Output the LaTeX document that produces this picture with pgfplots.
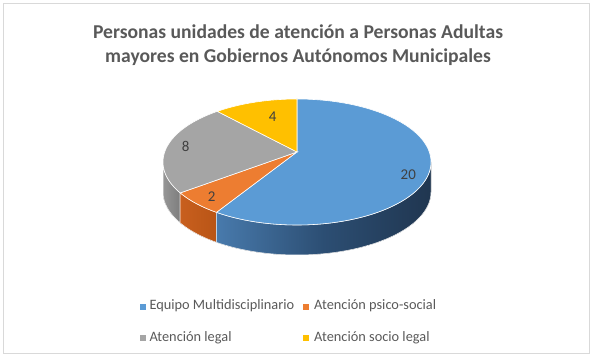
\documentclass[border=0pt]{standalone}
\usepackage{fontspec}
\setmainfont{Carlito}
\usepackage{pgfplots}
\usepackage{pgfplotstable}
\usepgfplotslibrary{fillbetween}
\pgfplotsset{compat=1.18}
\definecolor{cBlue}{HTML}{5B9BD5}
\definecolor{cOrange}{HTML}{ED7D31}
\definecolor{cGray}{HTML}{A5A5A5}
\definecolor{cYellow}{HTML}{FFC000}
\definecolor{cTitle}{HTML}{595959}
\definecolor{cLab}{HTML}{404040}
\definecolor{cBorder}{HTML}{D9D9D9}
\definecolor{gL}{RGB}{150,150,150}
\definecolor{gR}{RGB}{125,125,125}
\definecolor{oL}{RGB}{200,95,30}
\definecolor{oR}{RGB}{185,85,22}
\definecolor{bL}{RGB}{72,122,172}
\definecolor{bM}{RGB}{44,78,115}
\definecolor{bR}{RGB}{32,54,80}
\pgfplotstableread{
idx value
0 20
1 2
2 8
3 4
}\piedata
\pgfplotstablegetelem{0}{value}\of\piedata\let\vA\pgfplotsretval
\pgfplotstablegetelem{1}{value}\of\piedata\let\vB\pgfplotsretval
\pgfplotstablegetelem{2}{value}\of\piedata\let\vC\pgfplotsretval
\pgfplotstablegetelem{3}{value}\of\piedata\let\vD\pgfplotsretval
\pgfmathsetmacro\tot{\vA+\vB+\vC+\vD}
\pgfmathsetmacro\aA{90-360*\vA/\tot}
\pgfmathsetmacro\aB{\aA-360*\vB/\tot}
\pgfmathsetmacro\aC{\aB-360*\vC/\tot}
\pgfmathsetmacro\aD{\aC-360*\vD/\tot}
\begin{document}
\begin{tikzpicture}
\begin{axis}[scale only axis, width=594bp, height=358bp,
  xmin=0, xmax=594, ymin=0, ymax=358, hide axis, clip=false,
  declare function={bx(\t)=297+132.3*cos(\t)/(1+0.159*sin(\t));
                    by(\t)=196+63*(sin(\t)+0.159)/(1+0.159*sin(\t));}]
\path (0,0) rectangle (594,358);
\draw[cBorder, line width=0.8bp] (3.5,354.5) rectangle (589.5,5);
% ---- side walls
% gray
\addplot[name path=gT, draw=none, domain=-170.85:\aB, samples=30, forget plot] ({bx(x)},{by(x)});
\addplot[name path=gB, draw=none, domain=-170.85:\aB, samples=30, forget plot] ({bx(x)},{by(x)-30});
\addplot[left color=gL, right color=gR, draw=white, line width=0.5pt, forget plot] fill between[of=gT and gB];
% orange
\addplot[name path=oT, draw=none, domain=\aB:\aA, samples=30, forget plot] ({bx(x)},{by(x)});
\addplot[name path=oB, draw=none, domain=\aB:\aA, samples=30, forget plot] ({bx(x)},{by(x)-30});
\addplot[left color=oL, right color=oR, draw=white, line width=0.5pt, forget plot] fill between[of=oT and oB];
% blue
\addplot[name path=bT, draw=none, domain=\aA:-9.15, samples=80, forget plot] ({bx(x)},{by(x)});
\addplot[name path=bB, draw=none, domain=\aA:-9.15, samples=80, forget plot] ({bx(x)},{by(x)-30});
\addplot[left color=bL, right color=bR, middle color=bM, draw=white, line width=0.5pt, forget plot] fill between[of=bT and bB];
% ---- top face
\addplot[fill=cBlue, draw=white, line width=0.6pt, domain=\aA:90, samples=120, forget plot] ({bx(x)},{by(x)}) -- (297,206) -- cycle;
\addplot[fill=cOrange, draw=white, line width=0.6pt, domain=\aB:\aA, samples=30, forget plot] ({bx(x)},{by(x)}) -- (297,206) -- cycle;
\addplot[fill=cGray, draw=white, line width=0.6pt, domain=\aC:\aB, samples=60, forget plot] ({bx(x)},{by(x)}) -- (297,206) -- cycle;
\addplot[fill=cYellow, draw=white, line width=0.6pt, domain=\aD:\aC, samples=40, forget plot] ({bx(x)},{by(x)}) -- (297,206) -- cycle;
% ---- data labels
\node[text=cLab, font=\fontsize{15}{18}\selectfont] at (408.3,183) {20};
\node[text=cLab, font=\fontsize{15}{18}\selectfont] at (211.7,161.3) {2};
\node[text=cLab, font=\fontsize{15}{18}\selectfont] at (185.7,211.3) {8};
\node[text=cLab, font=\fontsize{15}{18}\selectfont] at (272.7,241.3) {4};
% ---- title
\node[text=cTitle, font=\fontsize{19.7}{24}\selectfont\bfseries, anchor=base] at (298,319.4) {Personas unidades de atención a Personas Adultas};
\node[text=cTitle, font=\fontsize{19.7}{24}\selectfont\bfseries, anchor=base] at (298,295.4) {mayores en Gobiernos Autónomos Municipales};
% ---- legend
\addplot[only marks, mark=square*, mark size=2.4, color=cBlue, forget plot] coordinates {(142.5,51.5)};
\addplot[only marks, mark=square*, mark size=2.4, color=cOrange, forget plot] coordinates {(306,51.5)};
\addplot[only marks, mark=square*, mark size=2.4, color=cGray, forget plot] coordinates {(142.5,20.5)};
\addplot[only marks, mark=square*, mark size=2.4, color=cYellow, forget plot] coordinates {(306,20.5)};
\node[text=cTitle, font=\fontsize{14.4}{17}\selectfont, anchor=base west, inner sep=0pt] at (149.3,48) {Equipo Multidisciplinario};
\node[text=cTitle, font=\fontsize{14.4}{17}\selectfont, anchor=base west, inner sep=0pt] at (314,48) {Atención psico-social};
\node[text=cTitle, font=\fontsize{14.4}{17}\selectfont, anchor=base west, inner sep=0pt] at (149.3,16.3) {Atención legal};
\node[text=cTitle, font=\fontsize{14.4}{17}\selectfont, anchor=base west, inner sep=0pt] at (314,16.3) {Atención socio legal};
\end{axis}
\end{tikzpicture}
\end{document}
